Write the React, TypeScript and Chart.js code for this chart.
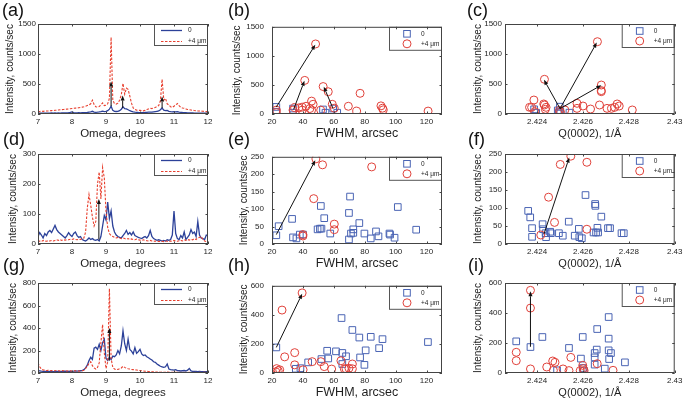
import React, { useEffect, useRef } from 'react';
import { Chart, registerables } from 'chart.js';
Chart.register(...registerables);

const FONT = "'Liberation Sans', Arial, Helvetica, sans-serif";
const TXT = '#1e1e1e';
const BLUE_LINE = '#2c4199';
const RED_LINE = '#e8402f';
const BLUE_MK = '#4a64b4';
const RED_MK = '#e0413a';

// ---------- shared labels / ticks ----------
const legendLabels = ['0', '+4 \u03bcm'];
const yTitle = 'Intensity, counts/sec';
const omegaTicks = [7, 8, 9, 10, 11, 12];
const fwhmTicks = [20, 40, 60, 80, 100, 120];
const qTicks = [2.424, 2.426, 2.428, 2.43];
const yTicks1500 = [0, 500, 1000, 1500];
const yTicks300 = [0, 100, 200, 300];
const yTicks800 = [0, 200, 400, 600, 800];
const yTicks250 = [0, 50, 100, 150, 200, 250];
const yTicks600 = [0, 200, 400, 600];

// ---------- omega scans (a), (d), (g) ----------
const omega = [
  7.0, 7.05, 7.1, 7.15, 7.2, 7.25, 7.3, 7.35, 7.4, 7.45,
  7.5, 7.55, 7.6, 7.65, 7.7, 7.75, 7.8, 7.85, 7.9, 7.95,
  8.0, 8.05, 8.1, 8.15, 8.2, 8.25, 8.3, 8.35, 8.4, 8.45,
  8.5, 8.55, 8.6, 8.65, 8.7, 8.75, 8.8, 8.85, 8.9, 8.95,
  9.0, 9.05, 9.1, 9.15, 9.2, 9.25, 9.3, 9.35, 9.4, 9.45,
  9.5, 9.55, 9.6, 9.65, 9.7, 9.75, 9.8, 9.85, 9.9, 9.95,
  10.0, 10.05, 10.1, 10.15, 10.2, 10.25, 10.3, 10.35, 10.4, 10.45,
  10.5, 10.55, 10.6, 10.65, 10.7, 10.75, 10.8, 10.85, 10.9, 10.95,
  11.0, 11.05, 11.1, 11.15, 11.2, 11.25, 11.3, 11.35, 11.4, 11.45,
  11.5, 11.55, 11.6, 11.65, 11.7, 11.75, 11.8, 11.85, 11.9, 11.95, 12.0,
];

const aZero = [
  15, 14, 16, 13, 15, 14, 16, 15, 17, 15,
  18, 16, 17, 15, 18, 17, 19, 18, 22, 28,
  35, 24, 20, 19, 21, 20, 22, 21, 24, 25,
  30, 35, 45, 32, 28, 30, 34, 40, 48, 40,
  45, 55, 80, 130, 60, 45, 42, 45, 55, 80,
  120, 90, 85, 70, 55, 45, 35, 30, 28, 25,
  24, 22, 23, 25, 28, 30, 32, 30, 35, 40,
  45, 50, 70, 100, 65, 55, 60, 45, 38, 35,
  40, 35, 38, 30, 28, 25, 24, 22, 20, 19,
  18, 17, 16, 16, 15, 15, 14, 15, 14, 13, 13,
];
const aPlus = [
  40, 42, 45, 44, 48, 50, 52, 55, 57, 58,
  62, 64, 66, 70, 72, 75, 78, 82, 85, 88,
  92, 95, 98, 100, 105, 110, 115, 120, 130, 140,
  150, 170, 230, 160, 120, 115, 125, 150, 185, 140,
  145, 170, 260, 1280, 230, 170, 165, 180, 230, 320,
  510, 330, 430, 410, 300, 180, 100, 75, 65, 60,
  62, 55, 52, 60, 75, 85, 95, 90, 100, 110,
  125, 140, 220, 580, 230, 260, 170, 150, 120, 110,
  130, 150, 175, 140, 110, 100, 95, 85, 75, 70,
  66, 62, 58, 55, 52, 50, 48, 45, 42, 40, 38,
];
const dZero = [
  24, 38, 30, 20, 35, 28, 40, 45, 38, 50,
  62, 48, 40, 35, 30, 25, 20, 28, 38, 30,
  25, 35, 40, 28, 22, 25, 15, 12, 10, 14,
  20, 15, 18, 14, 12, 15, 10, 25, 60, 95,
  80, 140, 85, 110, 60, 40, 30, 25, 22, 20,
  28, 35, 45, 32, 38, 30, 40, 28, 25, 22,
  20, 18, 22, 25, 20, 28, 45, 25, 18, 15,
  12, 14, 12, 10, 12, 10, 14, 12, 15, 30,
  110, 35, 18, 15, 28, 20, 40, 15, 22, 30,
  48, 35, 40, 25, 75, 30, 20, 18, 15, 30, 28,
];
const dPlus = [
  8, 10, 8, 12, 10, 9, 11, 10, 12, 10,
  12, 14, 12, 15, 12, 14, 13, 15, 14, 16,
  15, 17, 15, 14, 16, 15, 18, 20, 40, 120,
  165, 130, 90, 60, 75, 200, 240, 150, 255, 220,
  110, 55, 35, 28, 25, 22, 20, 22, 20, 18,
  20, 18, 16, 18, 15, 17, 15, 14, 16, 14,
  13, 12, 14, 12, 11, 10, 12, 10, 9, 10,
  8, 9, 8, 9, 8, 10, 9, 8, 10, 9,
  12, 10, 9, 11, 12, 10, 14, 12, 15, 13,
  16, 14, 18, 15, 20, 22, 25, 15, 10, 8, 7,
];
const gZero = [
  20, 18, 16, 15, 14, 15, 13, 14, 15, 13,
  14, 15, 14, 13, 15, 14, 16, 15, 14, 16,
  15, 16, 18, 16, 18, 20, 22, 30, 45, 70,
  110, 140, 120, 220, 230, 210, 255, 200, 270, 300,
  130, 110, 140, 120, 150, 145, 160, 200, 170, 240,
  375, 260, 200, 300, 210, 195, 170, 225, 175, 190,
  210, 170, 155, 160, 145, 135, 125, 115, 100, 95,
  80, 70, 60, 55, 50, 55, 80, 35, 30, 28,
  25, 30, 22, 20, 18, 20, 22, 18, 25, 40,
  18, 15, 14, 15, 13, 14, 12, 13, 12, 11, 12,
];
const gPlus = [
  90, 55, 35, 28, 25, 22, 24, 20, 22, 21,
  20, 22, 20, 19, 21, 20, 19, 18, 20, 19,
  18, 20, 19, 18, 17, 18, 20, 25, 40, 60,
  85, 100, 65, 45, 35, 50, 90, 270, 430, 180,
  40, 100, 750, 130, 50, 35, 30, 32, 38, 45,
  60, 50, 42, 38, 35, 32, 30, 28, 26, 24,
  22, 20, 18, 16, 15, 13, 12, 11, 10, 9,
  8, 8, 7, 8, 7, 8, 10, 7, 6, 7,
  6, 7, 6, 6, 5, 6, 5, 6, 5, 6,
  5, 5, 6, 5, 5, 6, 5, 5, 6, 5, 5,
];

// ---------- peak scatter data [x, intensity] ----------
const bZero = [[22.8, 122], [22.8, 39], [33.6, 94], [33.6, 22], [53, 78], [54.6, 22], [59.6, 94], [62.2, 22]];
const bPlus = [
  [48.2, 1205], [41.2, 578], [53.1, 472], [56.4, 383], [59, 167], [77, 356], [69.4, 133], [74.8, 50],
  [121, 50], [90.5, 140], [91.5, 100], [92, 72], [37.3, 105], [39.5, 118], [42, 133], [45.6, 222],
  [46.6, 167], [44.5, 94], [45.6, 67], [51.5, 67], [22.8, 67], [22.8, 25], [33.6, 67], [34.7, 111],
  [39.5, 67], [60.3, 100],
];
const cZero = [[2.42387, 78], [2.42396, 22], [2.42499, 122], [2.42501, 39], [2.42495, 11], [2.42541, 22], [2.4249, 60]];
const cPlus = [
  [2.42663, 1205], [2.42432, 578], [2.4268, 483], [2.4268, 390], [2.4268, 372], [2.42386, 233],
  [2.42429, 167], [2.42432, 150], [2.42367, 111], [2.42376, 111], [2.4239, 39], [2.42439, 111],
  [2.42436, 78], [2.42497, 60], [2.42502, 30], [2.42521, 67], [2.42574, 178], [2.42574, 94],
  [2.426, 133], [2.42633, 83], [2.42672, 150], [2.42705, 94], [2.42724, 94], [2.42738, 111],
  [2.42749, 167], [2.42758, 133], [2.42815, 67],
];
const eZero = [
  [22.8, 25], [24.3, 51], [33, 72], [33.6, 19], [35.8, 16], [38, 27], [40.1, 27], [49.5, 42],
  [51, 44], [52, 44], [51.6, 109], [53.8, 74], [57.7, 30], [70.5, 136], [69.8, 89], [69.8, 13],
  [71.1, 30], [72.6, 42], [72.6, 32], [76.5, 60], [79.8, 30], [83.9, 16], [87.3, 36], [88.9, 22],
  [96, 30], [96.4, 27], [99.3, 18], [101.4, 106], [113.3, 41],
];
const ePlus = [[48.4, 244], [52.7, 227], [84.5, 221], [47, 130], [60.3, 57], [60.3, 41], [40, 23], [40, 27]];
const fZero = [
  [2.42361, 92], [2.4237, 74], [2.42378, 44], [2.42378, 20], [2.42424, 55], [2.42426, 41],
  [2.42437, 30], [2.42439, 19], [2.42457, 34], [2.4246, 30], [2.42495, 30], [2.42512, 23],
  [2.42538, 62], [2.42564, 23], [2.42582, 42], [2.42584, 19], [2.42595, 16], [2.42611, 136],
  [2.42653, 111], [2.42654, 106], [2.4268, 76], [2.42646, 32], [2.42657, 32], [2.42666, 32],
  [2.42663, 45], [2.42709, 44], [2.42718, 44], [2.42768, 30], [2.42778, 30],
];
const fPlus = [[2.42547, 244], [2.42501, 221], [2.42617, 227], [2.4245, 130], [2.42476, 60], [2.42617, 41], [2.42416, 25]];
const hZero = [
  [22.8, 176], [35.4, 29], [38.4, 33], [43.4, 73], [52, 96], [55.7, 153], [56.4, 100], [61.4, 149],
  [65, 378], [65.5, 138], [65.5, 62], [67.9, 115], [72, 296], [76.5, 244], [77, 107], [79.8, 56],
  [80.6, 156], [83.9, 249], [89.3, 171], [91.5, 233], [120.9, 213],
];
const hPlus = [
  [39.5, 551], [26.5, 433], [28.2, 111], [34.7, 140], [34.7, 56], [23, 30], [24, 16], [25, 22],
  [22.5, 8], [40.1, 22], [46, 78], [51.6, 78], [53.8, 44], [58.6, 27], [64.6, 84], [66.8, 29],
  [67.9, 29], [69.8, 33], [72, 62], [72, 29],
];
const iZero = [
  [2.42309, 211], [2.42371, 173], [2.42423, 240], [2.42487, 18], [2.42539, 167], [2.42591, 96],
  [2.42599, 240], [2.42599, 33], [2.42604, 16], [2.42651, 133], [2.42651, 104], [2.42651, 56],
  [2.4266, 156], [2.42662, 293], [2.42695, 29], [2.42712, 373], [2.42712, 229], [2.42712, 151],
  [2.42722, 133], [2.42714, 93], [2.42783, 71],
];
const iPlus = [
  [2.42371, 551], [2.42371, 433], [2.42371, 27], [2.42309, 138], [2.42309, 82], [2.42442, 40],
  [2.42468, 80], [2.42478, 71], [2.42471, 18], [2.42513, 27], [2.42539, 16], [2.42547, 104],
  [2.42588, 16], [2.42599, 51], [2.42601, 29], [2.42605, 16], [2.42662, 62], [2.42731, 18],
];

// ---------- arrows [x1, y1, x2, y2] (data units, head at second point) ----------
const aArrows = [[9.15, 130, 9.15, 540], [9.49, 100, 9.49, 310], [10.65, 100, 10.65, 290]];
const dArrows = [[8.79, 15, 8.79, 150]];
const gArrows = [[9.1, 110, 9.1, 400]];
const bArrows = [[22.8, 120, 48, 1190], [34, 80, 41, 570], [59.5, 95, 53.5, 470]];
const cArrows = [[2.425, 90, 2.4243, 570], [2.425, 90, 2.4266, 1190], [2.425, 90, 2.4268, 480]];
const eArrows = [[22.8, 27, 48, 240]];
const fArrows = [[2.4243, 28, 2.4254, 240]];
const hArrows = [[22.8, 176, 39.5, 545]];
const iArrows = [[2.42371, 175, 2.42371, 545]];

// ---------- layout ----------
const BOX_W = 170;
const BOX_H = 90;
const PAD_T = 10;
const PAD_R = 10;
const X_AXIS_H = 28;

type Panel = {
  letter: string;
  letterPos: [number, number];
  box: [number, number];
  yAxisWidth: number;
  yTickPad: number;
  kind: 'line' | 'scatter';
  zero: any;
  plus: any;
  xMin: number;
  xMax: number;
  xTicks: number[];
  xTitle: string;
  xTitleSize: number;
  yMax: number;
  yTicks: number[];
  arrows: number[][];
};

const COL = [38, 272, 505];
const ROW = [24, 154, 283];

const panels: Panel[] = [
  { letter: '(a)', letterPos: [2, 1], box: [COL[0], ROW[0]], yAxisWidth: 34, yTickPad: 2, kind: 'line', zero: aZero, plus: aPlus, xMin: 7, xMax: 12, xTicks: omegaTicks, xTitle: 'Omega, degrees', xTitleSize: 11.5, yMax: 1500, yTicks: yTicks1500, arrows: aArrows },
  { letter: '(b)', letterPos: [228, 1], box: [COL[1], ROW[0]], yAxisWidth: 41, yTickPad: 8, kind: 'scatter', zero: bZero, plus: bPlus, xMin: 20, xMax: 130, xTicks: fwhmTicks, xTitle: 'FWHM, arcsec', xTitleSize: 12.5, yMax: 1500, yTicks: yTicks1500, arrows: bArrows },
  { letter: '(c)', letterPos: [467, 1], box: [COL[2], ROW[0]], yAxisWidth: 33, yTickPad: 3, kind: 'scatter', zero: cZero, plus: cPlus, xMin: 2.4226, xMax: 2.43, xTicks: qTicks, xTitle: 'Q(0002), 1/\u00c5', xTitleSize: 11, yMax: 1500, yTicks: yTicks1500, arrows: cArrows },
  { letter: '(d)', letterPos: [3, 130], box: [COL[0], ROW[1]], yAxisWidth: 31, yTickPad: 2, kind: 'line', zero: dZero, plus: dPlus, xMin: 7, xMax: 12, xTicks: omegaTicks, xTitle: 'Omega, degrees', xTitleSize: 11.5, yMax: 300, yTicks: yTicks300, arrows: dArrows },
  { letter: '(e)', letterPos: [228, 130], box: [COL[1], ROW[1]], yAxisWidth: 34, yTickPad: 8, kind: 'scatter', zero: eZero, plus: ePlus, xMin: 20, xMax: 130, xTicks: fwhmTicks, xTitle: 'FWHM, arcsec', xTitleSize: 12.5, yMax: 250, yTicks: yTicks250, arrows: eArrows },
  { letter: '(f)', letterPos: [468, 130], box: [COL[2], ROW[1]], yAxisWidth: 33, yTickPad: 3, kind: 'scatter', zero: fZero, plus: fPlus, xMin: 2.4226, xMax: 2.43, xTicks: qTicks, xTitle: 'Q(0002), 1/\u00c5', xTitleSize: 11, yMax: 250, yTicks: yTicks250, arrows: fArrows },
  { letter: '(g)', letterPos: [3, 256], box: [COL[0], ROW[2]], yAxisWidth: 31, yTickPad: 2, kind: 'line', zero: gZero, plus: gPlus, xMin: 7, xMax: 12, xTicks: omegaTicks, xTitle: 'Omega, degrees', xTitleSize: 11.5, yMax: 800, yTicks: yTicks800, arrows: gArrows },
  { letter: '(h)', letterPos: [228, 256], box: [COL[1], ROW[2]], yAxisWidth: 34, yTickPad: 8, kind: 'scatter', zero: hZero, plus: hPlus, xMin: 20, xMax: 130, xTicks: fwhmTicks, xTitle: 'FWHM, arcsec', xTitleSize: 12.5, yMax: 600, yTicks: yTicks600, arrows: hArrows },
  { letter: '(i)', letterPos: [468, 256], box: [COL[2], ROW[2]], yAxisWidth: 33, yTickPad: 3, kind: 'scatter', zero: iZero, plus: iPlus, xMin: 2.4226, xMax: 2.43, xTicks: qTicks, xTitle: 'Q(0002), 1/\u00c5', xTitleSize: 11, yMax: 600, yTicks: yTicks600, arrows: iArrows },
];

function drawArrow(ctx: CanvasRenderingContext2D, x1: number, y1: number, x2: number, y2: number) {
  const ang = Math.atan2(y2 - y1, x2 - x1);
  const L = 5;
  const W = 2;
  const bx = x2 - L * Math.cos(ang);
  const by = y2 - L * Math.sin(ang);
  ctx.beginPath();
  ctx.moveTo(x1, y1);
  ctx.lineTo(bx, by);
  ctx.stroke();
  ctx.beginPath();
  ctx.moveTo(x2, y2);
  ctx.lineTo(bx + W * Math.sin(ang), by - W * Math.cos(ang));
  ctx.lineTo(bx - W * Math.sin(ang), by + W * Math.cos(ang));
  ctx.closePath();
  ctx.fill();
}

function overlayPlugin(p: Panel) {
  return {
    id: 'overlay' + p.letter,
    afterDatasetsDraw(chart: any) {
      const { ctx, scales } = chart;
      ctx.save();
      ctx.strokeStyle = '#111';
      ctx.fillStyle = '#111';
      ctx.lineWidth = 1;
      p.arrows.forEach((a) => {
        drawArrow(ctx, scales.x.getPixelForValue(a[0]), scales.y.getPixelForValue(a[1]), scales.x.getPixelForValue(a[2]), scales.y.getPixelForValue(a[3]));
      });
      ctx.restore();
    },
    afterDraw(chart: any) {
      const { ctx, chartArea, scales } = chart;
      const { left, right, top, bottom } = chartArea;
      ctx.save();
      // legend
      const lw = p.kind === 'line' ? 54 : 53;
      const lh = p.kind === 'line' ? 22 : 24;
      const lx = right - lw;
      const ly = top;
      ctx.fillStyle = '#fff';
      ctx.fillRect(lx, ly, lw, lh);
      ctx.strokeStyle = '#555';
      ctx.lineWidth = 1;
      ctx.strokeRect(lx + 0.5, ly + 0.5, lw - 1, lh - 1);
      ctx.font = `6.5px ${FONT}`;
      ctx.textBaseline = 'middle';
      ctx.textAlign = 'left';
      ctx.fillStyle = TXT;
      if (p.kind === 'line') {
        const r0 = ly + 6.5;
        const r1 = ly + 17.5;
        ctx.strokeStyle = BLUE_LINE;
        ctx.lineWidth = 1.3;
        ctx.beginPath(); ctx.moveTo(lx + 7, r0); ctx.lineTo(lx + 28, r0); ctx.stroke();
        ctx.strokeStyle = RED_LINE;
        ctx.lineWidth = 1.1;
        ctx.setLineDash([2.5, 1.5]);
        ctx.beginPath(); ctx.moveTo(lx + 7, r1); ctx.lineTo(lx + 28, r1); ctx.stroke();
        ctx.setLineDash([]);
        ctx.fillText(legendLabels[0], lx + 34, r0);
        ctx.fillText(legendLabels[1], lx + 34, r1);
      } else {
        const r0 = ly + 7;
        const r1 = ly + 17;
        ctx.strokeStyle = BLUE_MK;
        ctx.lineWidth = 1;
        ctx.strokeRect(lx + 18 - 3.3, r0 - 3.3, 6.6, 6.6);
        ctx.strokeStyle = RED_MK;
        ctx.beginPath(); ctx.arc(lx + 18, r1, 4, 0, Math.PI * 2); ctx.stroke();
        ctx.fillText(legendLabels[0], lx + 32, r0);
        ctx.fillText(legendLabels[1], lx + 32, r1);
      }
      // frame + inward ticks
      ctx.strokeStyle = '#444';
      ctx.lineWidth = 1;
      ctx.strokeRect(left + 0.5, top + 0.5, right - left - 1, bottom - top - 1);
      const tl = 2.5;
      ctx.beginPath();
      scales.x.ticks.forEach((t: any) => {
        const px = Math.round(scales.x.getPixelForValue(t.value)) + 0.5;
        ctx.moveTo(px, bottom); ctx.lineTo(px, bottom - tl);
        ctx.moveTo(px, top); ctx.lineTo(px, top + tl);
      });
      scales.y.ticks.forEach((t: any) => {
        const py = Math.round(scales.y.getPixelForValue(t.value)) + 0.5;
        ctx.moveTo(left, py); ctx.lineTo(left + tl, py);
        ctx.moveTo(right, py); ctx.lineTo(right - tl, py);
      });
      ctx.stroke();
      ctx.restore();
    },
  };
}

function buildConfig(p: Panel): any {
  const datasets =
    p.kind === 'line'
      ? [
          { label: legendLabels[0], data: omega.map((x, i) => ({ x, y: p.zero[i] })), borderColor: BLUE_LINE, borderWidth: 1.3, pointRadius: 0, tension: 0, fill: false, order: 1 },
          { label: legendLabels[1], data: omega.map((x, i) => ({ x, y: p.plus[i] })), borderColor: RED_LINE, borderWidth: 1.1, borderDash: [2.5, 1.5], pointRadius: 0, tension: 0, fill: false, order: 0 },
        ]
      : [
          { label: legendLabels[0], data: p.zero.map((d: number[]) => ({ x: d[0], y: d[1] })), showLine: false, pointStyle: 'rect', pointRadius: 4.7, borderColor: BLUE_MK, backgroundColor: 'rgba(0,0,0,0)', borderWidth: 1, order: 1 },
          { label: legendLabels[1], data: p.plus.map((d: number[]) => ({ x: d[0], y: d[1] })), showLine: false, pointStyle: 'circle', pointRadius: 4, borderColor: RED_MK, backgroundColor: 'rgba(0,0,0,0)', borderWidth: 1, order: 0 },
        ];
  const tickFont = { family: FONT, size: 8 };
  return {
    type: p.kind === 'line' ? 'line' : 'scatter',
    data: { datasets },
    options: {
      animation: false,
      responsive: false,
      devicePixelRatio: 1,
      events: [],
      layout: { padding: { left: 0, top: PAD_T, right: PAD_R, bottom: 0 }, autoPadding: false },
      plugins: { legend: { display: false }, tooltip: { enabled: false }, title: { display: false } },
      scales: {
        x: {
          type: 'linear',
          min: p.xMin,
          max: p.xMax,
          grid: { display: false, drawTicks: false, tickLength: 0 },
          border: { display: false },
          afterBuildTicks: (s: any) => { s.ticks = p.xTicks.map((v) => ({ value: v })); },
          afterFit: (s: any) => { s.height = X_AXIS_H; },
          ticks: { padding: 2.5, color: TXT, font: tickFont, maxRotation: 0, minRotation: 0, autoSkip: false, callback: (v: any) => String(v) },
          title: { display: true, text: p.xTitle, color: TXT, font: { family: FONT, size: p.xTitleSize, lineHeight: 1.2 }, padding: { top: 0, bottom: 1 } },
        },
        y: {
          type: 'linear',
          min: 0,
          max: p.yMax,
          grid: { display: false, drawTicks: false, tickLength: 0 },
          border: { display: false },
          afterBuildTicks: (s: any) => { s.ticks = p.yTicks.map((v) => ({ value: v })); },
          afterFit: (s: any) => { s.width = p.yAxisWidth; },
          ticks: { padding: p.yTickPad, color: TXT, font: tickFont, autoSkip: false, callback: (v: any) => String(v) },
          title: { display: true, text: yTitle, color: TXT, font: { family: FONT, size: 10, lineHeight: 1.2 }, padding: { top: 0, bottom: 0 } },
        },
      },
    },
    plugins: [overlayPlugin(p)],
  };
}

function PanelChart({ p }: { p: Panel }) {
  const ref = useRef<HTMLCanvasElement>(null);
  const w = p.yAxisWidth + BOX_W + PAD_R;
  const h = PAD_T + BOX_H + X_AXIS_H;
  useEffect(() => {
    const chart = new Chart(ref.current as HTMLCanvasElement, buildConfig(p));
    return () => chart.destroy();
  }, []);
  return (
    <canvas
      ref={ref}
      width={w}
      height={h}
      style={{ position: 'absolute', left: p.box[0] - p.yAxisWidth, top: p.box[1] - PAD_T, width: w, height: h }}
    />
  );
}

export default function App() {
  return (
    <div style={{ position: 'absolute', left: 0, top: 0, width: 685, height: 401, background: '#fff', overflow: 'hidden', fontFamily: FONT }}>
      {panels.map((p) => (
        <PanelChart key={p.letter} p={p} />
      ))}
      {panels.map((p) => (
        <div
          key={'l' + p.letter}
          style={{ position: 'absolute', left: p.letterPos[0], top: p.letterPos[1], fontSize: 18, lineHeight: '18px', color: '#111', whiteSpace: 'nowrap' }}
        >
          {p.letter}
        </div>
      ))}
    </div>
  );
}
